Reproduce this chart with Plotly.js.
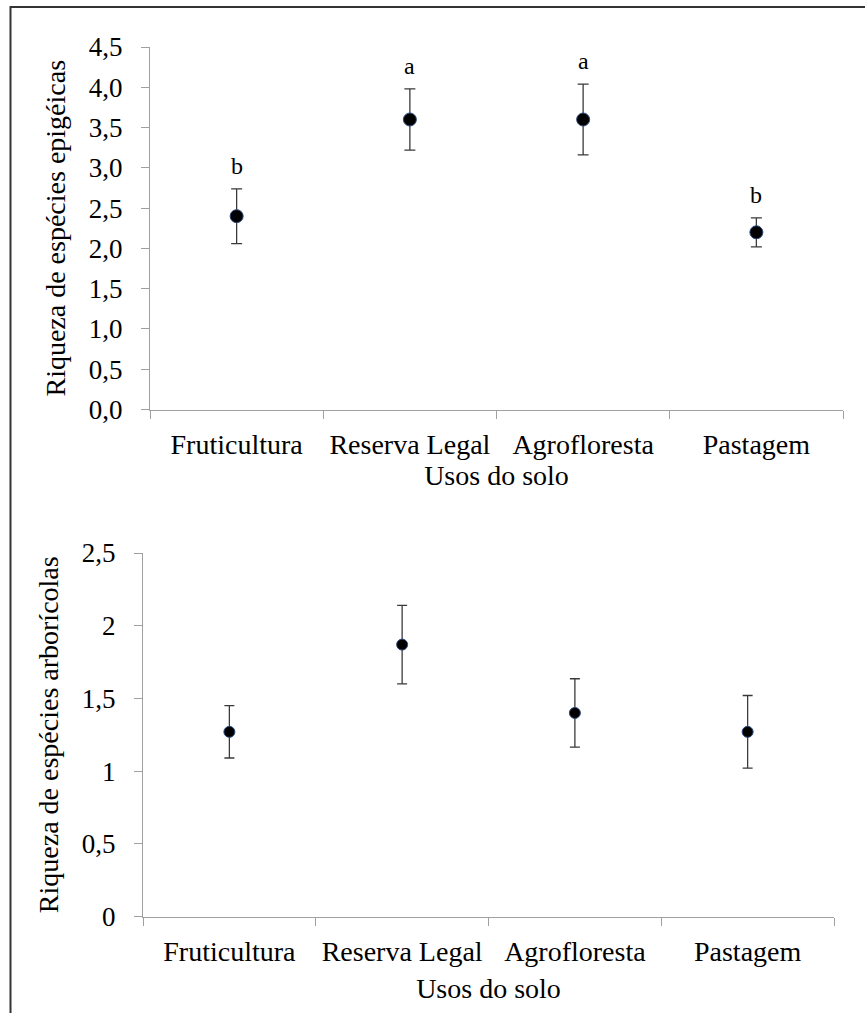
<!DOCTYPE html>
<html>
<head>
<meta charset="utf-8">
<script src="https://cdn.plot.ly/plotly-3.0.1.min.js"></script>
<style>html,body{margin:0;padding:0;background:#fff;}#chart{width:865px;height:1013px;}</style>
</head>
<body>
<div id="chart"></div>
<script>
const categories = ['Fruticultura', 'Reserva Legal', 'Agrofloresta', 'Pastagem'];

// Top chart: epigeic species richness
const epigeicMean = [2.40, 3.60, 3.60, 2.20];
const epigeicErr = [0.34, 0.38, 0.44, 0.18];
const epigeicLetters = ['b', 'a', 'a', 'b'];

// Bottom chart: arboreal species richness
const arborealMean = [1.27, 1.87, 1.40, 1.27];
const arborealErr = [0.18, 0.27, 0.235, 0.25];

const topYTicks = [0, 0.5, 1, 1.5, 2, 2.5, 3, 3.5, 4, 4.5];
const bottomYTicks = [0, 0.5, 1, 1.5, 2, 2.5];

const W = 865, H = 1013;
const serif = '"Liberation Serif", "Times New Roman", serif';
const axisGray = '#a0a0a0';

const traces = [
  {
    type: 'scatter', mode: 'markers', x: categories, y: epigeicMean,
    xaxis: 'x', yaxis: 'y',
    marker: {color: '#000', size: 13, line: {color: '#2e4a7d', width: 1}},
    error_y: {type: 'data', array: epigeicErr, visible: true, color: '#3a3a3a', thickness: 1.3, width: 5.5},
    showlegend: false, hoverinfo: 'skip'
  },
  {
    type: 'scatter', mode: 'markers', x: categories, y: arborealMean,
    xaxis: 'x2', yaxis: 'y2',
    marker: {color: '#000', size: 11, line: {color: '#2e4a7d', width: 1}},
    error_y: {type: 'data', array: arborealErr, visible: true, color: '#3a3a3a', thickness: 1.3, width: 5},
    showlegend: false, hoverinfo: 'skip'
  }
];

const letterAnnotations = categories.map((c, i) => ({
  x: c, y: epigeicMean[i] + epigeicErr[i], xref: 'x', yref: 'y',
  text: epigeicLetters[i], showarrow: false, yanchor: 'bottom', yshift: 8,
  font: {family: serif, size: 24, color: '#000'}
}));

const xAxisBase = {
  type: 'category', range: [-0.5, 3.5], tickson: 'boundaries',
  showline: true, linecolor: axisGray, linewidth: 1,
  ticks: 'outside', ticklen: 8, tickcolor: axisGray, tickwidth: 1,
  showgrid: false, zeroline: false, ticklabelstandoff: 10,
  tickfont: {family: serif, size: 28, color: '#000'},
  fixedrange: true
};
const yAxisBase = {
  showline: true, linecolor: axisGray, linewidth: 1,
  ticks: 'outside', ticklen: 8, tickcolor: axisGray, tickwidth: 1,
  showgrid: false, zeroline: false, ticklabelstandoff: 13,
  tickfont: {family: serif, size: 27, color: '#000'},
  fixedrange: true
};

const layout = {
  width: W, height: H,
  margin: {l: 0, r: 0, t: 0, b: 0},
  paper_bgcolor: '#fff', plot_bgcolor: '#fff',
  separators: ',.',
  showlegend: false,
  xaxis: Object.assign({}, xAxisBase, {
    domain: [150 / W, 843 / W], anchor: 'y',
    title: {text: 'Usos do solo', font: {family: serif, size: 28, color: '#000'}, standoff: 0}
  }),
  yaxis: Object.assign({}, yAxisBase, {
    domain: [1 - 409.5 / H, 1 - 47 / H], anchor: 'x',
    range: [0, 4.5], tickvals: topYTicks, tickformat: '.1f',
    title: {text: 'Riqueza de espécies epigéicas', font: {family: serif, size: 28, color: '#000'}, standoff: 15}
  }),
  xaxis2: Object.assign({}, xAxisBase, {
    domain: [143 / W, 834 / W], anchor: 'y2',
    title: {text: 'Usos do solo', font: {family: serif, size: 28, color: '#000'}, standoff: 12}
  }),
  yaxis2: Object.assign({}, yAxisBase, {
    domain: [1 - 916.5 / H, 1 - 553 / H], anchor: 'x2',
    range: [0, 2.5], tickvals: bottomYTicks,
    title: {text: 'Riqueza de espécies arborícolas', font: {family: serif, size: 28, color: '#000'}, standoff: 15}
  }),
  annotations: letterAnnotations,
  shapes: [
    {type: 'line', xref: 'paper', yref: 'paper', x0: 10 / W, x1: 1, y0: 1 - 7 / H, y1: 1 - 7 / H, line: {color: '#333', width: 2}},
    {type: 'line', xref: 'paper', yref: 'paper', x0: 10.5 / W, x1: 10.5 / W, y0: 0, y1: 1 - 6 / H, line: {color: '#333', width: 2}}
  ]
};

Plotly.newPlot('chart', traces, layout, {displayModeBar: false, staticPlot: true});
</script>
</body>
</html>
